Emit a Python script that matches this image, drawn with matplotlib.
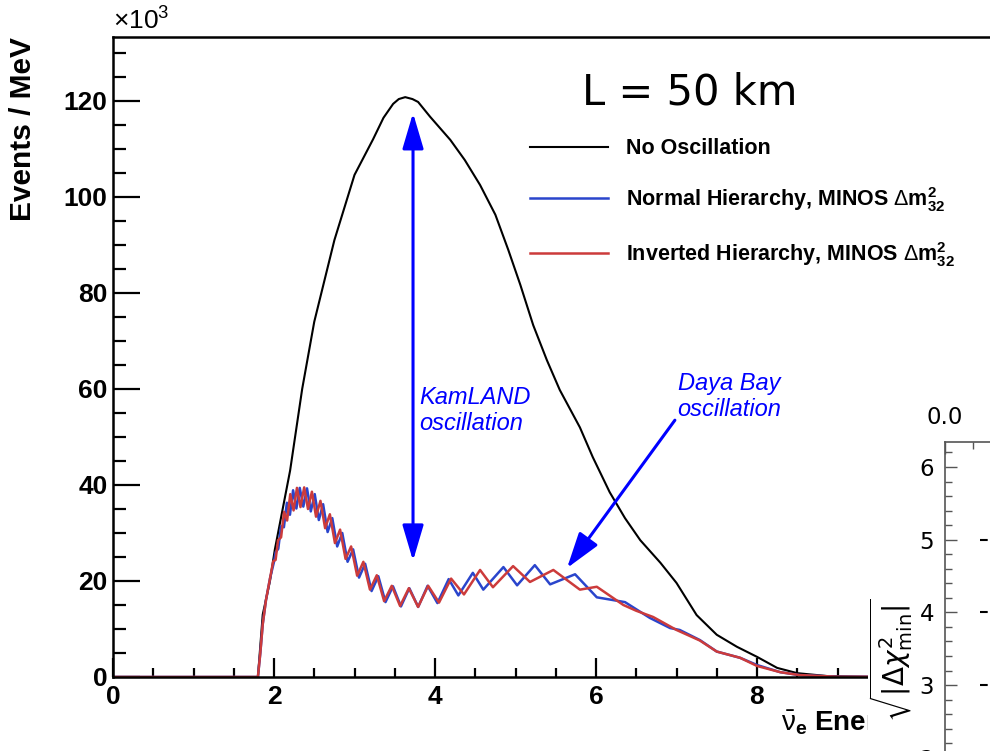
import matplotlib
matplotlib.use('Agg')
import matplotlib.pyplot as plt
from matplotlib.ticker import MultipleLocator, FormatStrFormatter
from matplotlib.patches import Rectangle

# reactor spectrum at L = 50 km, events per MeV (x10^3)
energy_noosc = [0.0, 1.80, 1.86, 1.95, 2.01, 2.2, 2.35, 2.5, 2.75, 3.0, 3.23,
                3.36, 3.48, 3.55, 3.63, 3.72, 3.79, 3.94, 4.19, 4.37, 4.56,
                4.75, 4.91, 5.06, 5.22, 5.39, 5.55, 5.8, 5.96, 6.17, 6.36,
                6.55, 6.8, 7.0, 7.25, 7.5, 7.75, 8.0, 8.25, 8.5, 8.87, 9.5,
                12.0]
events_noosc = [0, 0, 13, 20, 26.5, 43, 60, 74, 91, 104.6, 112, 116.5, 119.4,
                120.4, 120.8, 120.4, 119.8, 116.7, 111.9, 107.7, 102.5, 96.3,
                89, 81.7, 73.3, 66, 59.8, 52, 45.8, 38.5, 33.1, 28.5, 23.8,
                19.6, 12.9, 8.8, 6.3, 4.2, 1.9, 0.8, 0.2, 0, 0]

# normal hierarchy
energy_nh = [0.0, 1.80, 1.83, 1.86, 1.90, 1.95, 2.00, 2.02, 2.053, 2.087,
             2.123, 2.16, 2.198, 2.237, 2.278, 2.32, 2.364, 2.41, 2.457, 2.506,
             2.557, 2.61, 2.666, 2.724, 2.785, 2.848, 2.914, 2.983, 3.056,
             3.132, 3.212, 3.296, 3.385, 3.478, 3.577, 3.681, 3.791, 3.908,
             4.03, 4.17, 4.29, 4.47, 4.60, 4.85, 5.02, 5.24, 5.43, 5.74, 6.01,
             6.36, 6.67, 6.92, 7.04, 7.29, 7.5, 7.79, 8.0, 8.29, 8.53, 9.0,
             12.0]
events_nh = [0, 0, 5, 11, 16, 20.5, 24, 26.0, 26.7, 31.4, 31.2, 36.3, 33.8,
             38.9, 35.1, 39.4, 35.5, 39.3, 34.5, 38.1, 32.7, 36.0, 30.2, 33.1,
             27.2, 30.0, 24.0, 26.6, 20.7, 23.6, 17.9, 21.0, 15.6, 18.9, 14.7,
             18.5, 14.6, 19.0, 15.4, 20.4, 17.0, 21.7, 18.2, 22.9, 19.1, 23.3,
             19.3, 21.4, 16.6, 15.6, 12.3, 10.2, 9.8, 7.7, 5.3, 4.0, 2.5, 1.0,
             0.4, 0.05, 0]

# inverted hierarchy
energy_ih = [0.0, 1.80, 1.83, 1.86, 1.90, 1.95, 1.99, 2.02, 2.05, 2.088,
             2.125, 2.163, 2.202, 2.243, 2.285, 2.329, 2.375, 2.422, 2.471,
             2.522, 2.577, 2.635, 2.694, 2.757, 2.821, 2.889, 2.958, 3.033,
             3.11, 3.192, 3.277, 3.368, 3.463, 3.566, 3.675, 3.79, 3.915, 4.05,
             4.20, 4.36, 4.56, 4.72, 4.97, 5.18, 5.47, 5.80, 6.01, 6.34, 6.50,
             6.71, 7.0, 7.29, 7.5, 7.79, 8.0, 8.29, 8.53, 9.0, 12.0]
events_ih = [0, 0, 5, 11, 16, 20.5, 24.1, 24.4, 28.5, 29.1, 34.4, 32.6, 38.1,
             34.7, 39.4, 35.4, 39.5, 35.0, 38.6, 33.4, 36.7, 31.0, 33.9, 27.9,
             30.7, 24.6, 27.2, 21.1, 24.0, 18.2, 21.2, 15.8, 19.0, 14.8, 18.5,
             14.6, 19.0, 15.5, 20.5, 17.2, 22.3, 18.7, 23.1, 19.8, 22.3, 18.2,
             18.8, 15.0, 13.8, 12.5, 9.8, 7.6, 5.3, 4.0, 2.3, 1.0, 0.4, 0.05, 0]

x_ticks = [0, 2, 4, 6, 8, 10, 12]
x_tick_labels = ['0', '2', '4', '6', '8', '10', '12']
y_ticks = [0, 20, 40, 60, 80, 100, 120]
y_tick_labels = ['0', '20', '40', '60', '80', '100', '120']

# annotation arrows (energy, events)
kamland_arrow = [(3.727, 117.5), (3.727, 24.2)]
dayabay_arrow = [(6.98, 53.5), (5.64, 22.7)]

# inset: significance levels
sigma_levels = [3, 4, 5]
sigma_line_start = 0.125

plt.rcParams['font.family'] = 'Liberation Sans'
plt.rcParams['mathtext.fontset'] = 'custom'
plt.rcParams['mathtext.rm'] = 'Liberation Sans'
plt.rcParams['mathtext.it'] = 'Liberation Sans:italic'
plt.rcParams['mathtext.bf'] = 'Liberation Sans:bold'

fig = plt.figure(figsize=(9.9, 7.51), dpi=100)
W, H = 990.0, 751.0

# main axes (runs off the right edge, as in the original crop)
ax = fig.add_axes([113 / W, (H - 677) / H, 966 / W, 640 / H])
ax.plot(energy_noosc, events_noosc, color='black', lw=1.5,
        label='No Oscillation')
ax.plot(energy_nh, events_nh, color='#2a45cc', lw=1.8,
        label=r'Normal Hierarchy, MINOS $\Delta\mathbf{m}^{\mathbf{2}}_{\mathbf{32}}$')
ax.plot(energy_ih, events_ih, color='#cc3b3b', lw=1.8,
        label=r'Inverted Hierarchy, MINOS $\Delta\mathbf{m}^{\mathbf{2}}_{\mathbf{32}}$')

ax.set_xlim(0, 12)
ax.set_ylim(0, 133.33)
ax.set_xticks(x_ticks, labels=x_tick_labels, fontsize=19, fontweight='bold')
ax.set_yticks(y_ticks, labels=y_tick_labels, fontsize=19, fontweight='bold')
ax.xaxis.set_minor_locator(MultipleLocator(0.5))
ax.yaxis.set_minor_locator(MultipleLocator(5))
ax.tick_params(axis='x', which='major', direction='in', length=13.5, width=1.6,
               pad=6)
ax.tick_params(axis='x', which='minor', direction='in', length=6.5, width=1.6)
ax.tick_params(axis='y', which='major', direction='in', length=19.5, width=1.6,
               pad=4)
ax.tick_params(axis='y', which='minor', direction='in', length=9.5, width=1.6)
for s in ['left', 'bottom', 'top']:
    ax.spines[s].set_linewidth(1.8)
ax.spines['right'].set_visible(False)

ax.set_ylabel('Events / MeV', fontsize=21.5, fontweight='bold', loc='top')
ax.yaxis.set_label_coords(-0.079, 1.0)
ax.set_xlabel(r'$\bar{\mathrm{\nu}}_{\mathbf{e}}$ Energy (MeV)', fontsize=20,
              fontweight='bold', ha='left')
ax.xaxis.set_label_coords(0.6915, -0.05)
ax.text(0.0, 1.004, r'$\times$10$^{3}$', transform=ax.transAxes, fontsize=19,
        ha='left', va='bottom')

ax.text(0.4855, 0.8953, 'L = 50 km', transform=ax.transAxes, fontsize=30,
        family='DejaVu Sans', va='baseline', ha='left')

ax.legend(loc='upper left', bbox_to_anchor=(0.4317, 0.842), frameon=False,
          prop={'size': 15.5, 'weight': 'bold'}, handlelength=3.6,
          handletextpad=0.85, labelspacing=1.2, borderpad=0, borderaxespad=0)

# KamLAND and Daya Bay arrows
ax.annotate('', xy=kamland_arrow[0], xytext=kamland_arrow[1],
            arrowprops=dict(arrowstyle='<|-|>,head_length=22,head_width=6.5',
                            mutation_scale=1, lw=2.2, color='blue',
                            shrinkA=0, shrinkB=0))
ax.annotate('', xy=dayabay_arrow[1], xytext=dayabay_arrow[0],
            arrowprops=dict(arrowstyle='-|>,head_length=22,head_width=7',
                            mutation_scale=1, lw=2.2, color='blue',
                            shrinkA=0, shrinkB=0))
ax.text(3.80, 60.6, 'KamLAND\noscillation', color='blue', fontsize=17,
        style='italic', ha='left', va='top', linespacing=1.15)
ax.text(7.65, 63.5, 'Daya Bay\noscillation', color='blue', fontsize=17,
        style='italic', ha='center', va='top', linespacing=1.15)

# the neighbouring panel overlapping at bottom right
fig.patches.append(Rectangle((868 / W, 0), (W - 868) / W, (H - 405) / H,
                             transform=fig.transFigure, facecolor='white',
                             edgecolor='none', zorder=5))
axin = fig.add_axes([945 / W, (H - 842) / H, 300 / W, 400 / H], zorder=10)
axin.hlines(sigma_levels, sigma_line_start, 1.07, colors='black',
            linestyles='--', lw=1.5)
axin.set_xlim(0, 1.07)
axin.set_ylim(0.842, 6.344)
axin.xaxis.set_major_locator(MultipleLocator(0.5))
axin.xaxis.set_minor_locator(MultipleLocator(0.1))
axin.xaxis.set_major_formatter(FormatStrFormatter('%.1f'))
axin.yaxis.set_major_locator(MultipleLocator(1))
axin.yaxis.set_minor_locator(MultipleLocator(0.2))
axin.tick_params(which='both', direction='in', top=True, bottom=False,
                 labeltop=True, labelbottom=False, colors='#555555',
                 labelcolor='black', labelsize=16.5,
                 labelfontfamily='DejaVu Sans')
axin.tick_params(which='major', length=8.5, width=1.0)
axin.tick_params(which='minor', length=5, width=1.0)
axin.tick_params(axis='y', pad=8)
axin.tick_params(axis='x', pad=9)
for s in axin.spines.values():
    s.set_color('#555555')
    s.set_linewidth(1.2)
axin.set_ylabel(r'$\sqrt{|\Delta\chi^2_{\mathrm{min}}|}$', fontsize=20,
                family='DejaVu Sans', math_fontfamily='dejavusans')
axin.yaxis.set_label_coords(-0.10, 0.455)

fig.savefig('out.png', dpi=100)
